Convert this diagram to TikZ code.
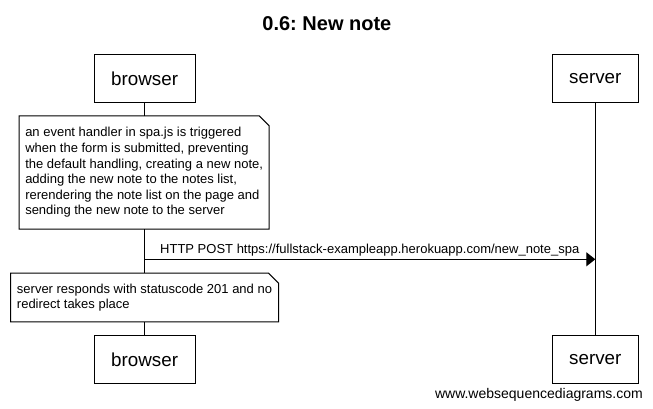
\documentclass[tikz,border=0pt]{standalone}
\usepackage{fontspec}
\setmainfont{Liberation Sans}
\usetikzlibrary{arrows.meta}
\frenchspacing
\begin{document}
\begin{tikzpicture}[x=1pt,y=-1pt,
  actor/.style={draw, line width=1pt, fill=white, minimum height=48.7pt, inner sep=0pt, font=\fontsize{18.8}{22}\selectfont},
  notebox/.style={fill=white, inner sep=0pt, align=left, font=\fontsize{13}{15.6}\selectfont},
  noteline/.style={line width=1pt, line join=miter},
  lifeline/.style={line width=1pt},
  msg/.style={line width=1pt, -{Triangle[length=9pt,width=14pt]}},
  msglabel/.style={font=\fontsize{13}{15.6}\selectfont, inner sep=0pt},
]
\useasboundingbox[fill=white] (0,0) rectangle (653,408);

\node[font=\bfseries\fontsize{20}{24}\selectfont, anchor=base] (title) at (326.9,30) {0.6: New note};

\node[actor, minimum width=100.7pt] (b1) at (144.65,78.35) {browser};
\node[actor, minimum width=86pt] (s1) at (595.3,78.35) {server};
\node[actor, minimum width=100.7pt] (b2) at (144.65,359.5) {browser};
\node[actor, minimum width=86pt] (s2) at (595.3,359.5) {server};

\draw[lifeline] (b1.south) -- (b2.north);
\draw[lifeline] (s1.south) -- (s2.north);

% note 1
\node[notebox, minimum width=249.7pt, minimum height=113pt] (n1) at (144.15,172.5)
  {an event handler in spa.js is triggered\\
   when the form is submitted, preventing\\
   the default handling, creating a new note,\\
   adding the new note to the notes list,\\
   rerendering the note list on the page and\\
   sending the new note to the server};
\draw[noteline] ([xshift=-10pt]n1.north east) -- (n1.north west) -- (n1.south west)
  -- (n1.south east) -- ([yshift=-10pt]n1.north east) -- cycle;

% message
\coordinate (ymsg) at (0,259.3);
\draw[msg] (b1.south |- ymsg) -- (s1.south |- ymsg);
\node[msglabel, anchor=base west] (lbl) at (160,253)
  {HTTP POST https://fullstack-exampleapp.herokuapp.com/new\_note\_spa};

% note 2
\node[notebox, minimum width=267.6pt, minimum height=48.4pt] (n2) at (144.5,297.5)
  {server responds with statuscode 201 and no\\
   redirect takes place};
\draw[noteline] ([xshift=-10pt]n2.north east) -- (n2.north west) -- (n2.south west)
  -- (n2.south east) -- ([yshift=-10pt]n2.north east) -- cycle;

\node[font=\fontsize{14}{16}\selectfont, anchor=base east, inner sep=0pt] (wsd) at (643,398) {www.websequencediagrams.com};
\end{tikzpicture}
\end{document}
